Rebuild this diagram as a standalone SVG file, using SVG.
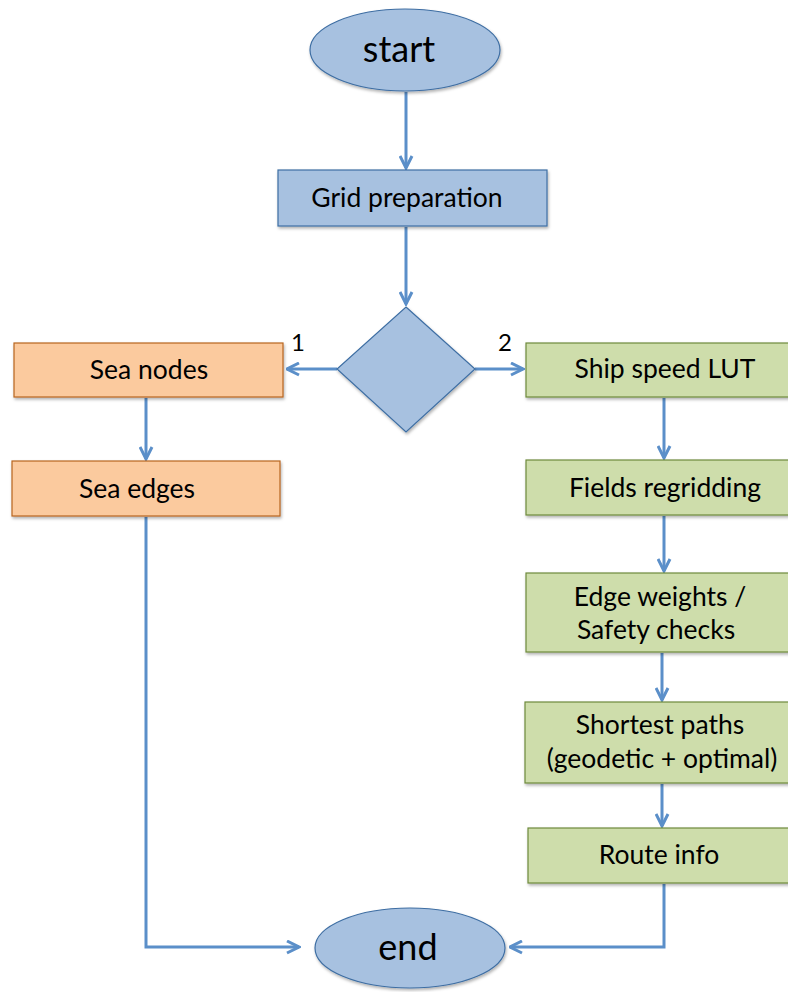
<svg xmlns="http://www.w3.org/2000/svg" width="788" height="992" viewBox="0 0 788 992">
<style>
.blue{fill:#A7C1E0;stroke:#3E6EA3;stroke-width:1.2}
.orange{fill:#FBCA9E;stroke:#B8651E;stroke-width:1.2}
.green{fill:#CEDDAB;stroke:#6F8A3B;stroke-width:1.2}
.t{font-family:Lato,"Open Sans",sans-serif;font-size:26.5px;fill:#000;text-anchor:middle}
.big{font-size:36px}
.num{font-size:24px}
.c{fill:none;stroke:#5B8FC9;stroke-width:3}
</style>
<defs>
<filter id="sh" x="-10%" y="-10%" width="130%" height="140%">
<feDropShadow dx="1" dy="2" stdDeviation="1.5" flood-color="#000" flood-opacity="0.3"/>
</filter>
<marker id="ah" viewBox="0 0 10 10" refX="9" refY="5" markerWidth="5" markerHeight="5" orient="auto" markerUnits="strokeWidth">
<path d="M1,1 L9,5 L1,9" fill="none" stroke="#5B8FC9" stroke-width="2"/>
</marker>
</defs>
<g id="connectors">
<line class="c" x1="406" y1="92" x2="406" y2="168" marker-end="url(#ah)"/>
<line class="c" x1="406" y1="227" x2="406" y2="304" marker-end="url(#ah)"/>
<line class="c" x1="337" y1="369" x2="287" y2="369" marker-end="url(#ah)"/>
<line class="c" x1="475" y1="369" x2="523" y2="369" marker-end="url(#ah)"/>
<line class="c" x1="146" y1="398" x2="146" y2="459" marker-end="url(#ah)"/>
<polyline class="c" points="146,517 146,947 299,947" marker-end="url(#ah)"/>
<line class="c" x1="664" y1="398" x2="664" y2="458" marker-end="url(#ah)"/>
<line class="c" x1="664" y1="516" x2="664" y2="571" marker-end="url(#ah)"/>
<line class="c" x1="662" y1="653" x2="662" y2="700" marker-end="url(#ah)"/>
<line class="c" x1="662" y1="784" x2="662" y2="826" marker-end="url(#ah)"/>
<polyline class="c" points="664,884 664,947 510,947" marker-end="url(#ah)"/>
</g>
<g id="start">
<ellipse class="blue" cx="405" cy="50" rx="95" ry="41" filter="url(#sh)"/>
<text class="t big" x="399" y="62">start</text>
</g>
<g id="grid">
<rect class="blue" x="278" y="170" width="269" height="56" filter="url(#sh)"/>
<text class="t" x="407" y="207">Grid preparation</text>
</g>
<g id="decision">
<polygon class="blue" points="406,307 475,369 406,432 337,369" filter="url(#sh)"/>
<text class="t num" x="298" y="351">1</text>
<text class="t num" x="505" y="351">2</text>
</g>
<g id="seanodes">
<rect class="orange" x="14" y="343" width="269" height="54" filter="url(#sh)"/>
<text class="t" x="149" y="379">Sea nodes</text>
</g>
<g id="seaedges">
<rect class="orange" x="12" y="461" width="268" height="55" filter="url(#sh)"/>
<text class="t" x="137" y="498">Sea edges</text>
</g>
<g id="shipspeed">
<rect class="green" x="526" y="343" width="268" height="54" filter="url(#sh)"/>
<text class="t" x="665" y="378">Ship speed LUT</text>
</g>
<g id="fields">
<rect class="green" x="526" y="460" width="268" height="55" filter="url(#sh)"/>
<text class="t" x="665" y="497">Fields regridding</text>
</g>
<g id="edgeweights">
<rect class="green" x="526" y="573" width="268" height="79" filter="url(#sh)"/>
<text class="t" x="660" y="606">Edge weights /</text>
<text class="t" x="656" y="639">Safety checks</text>
</g>
<g id="shortest">
<rect class="green" x="525" y="702" width="268" height="81" filter="url(#sh)"/>
<text class="t" x="660" y="734">Shortest paths</text>
<text class="t" x="662" y="768">(geodetic + optimal)</text>
</g>
<g id="route">
<rect class="green" x="528" y="828" width="266" height="55" filter="url(#sh)"/>
<text class="t" x="659" y="864">Route info</text>
</g>
<g id="end">
<ellipse class="blue" cx="410" cy="948" rx="95" ry="40" filter="url(#sh)"/>
<text class="t big" x="408" y="960">end</text>
</g>
</svg>
